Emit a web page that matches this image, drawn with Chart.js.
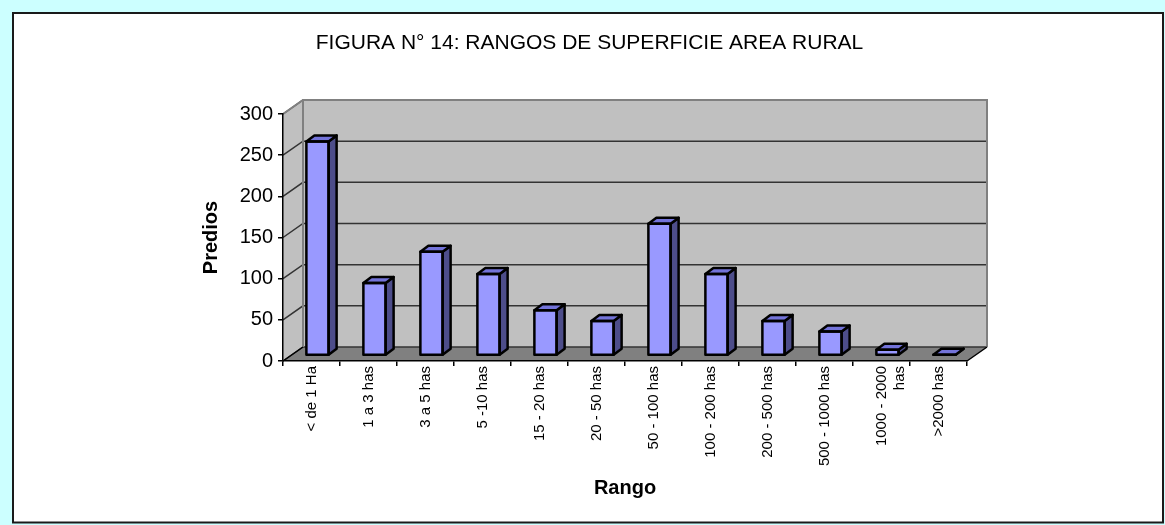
<!DOCTYPE html>
<html>
<head>
<meta charset="utf-8">
<script src="https://cdn.jsdelivr.net/npm/chart.js@4.4.1/dist/chart.umd.min.js"></script>
<style>
  html, body { margin: 0; padding: 0; background: #CCFFFF; }
  canvas { display: block; }
</style>
</head>
<body>
<canvas id="c" width="1165" height="525"></canvas>
<script>
// ---- data ----
const chartTitle = 'FIGURA N° 14: RANGOS DE SUPERFICIE AREA RURAL';
const categories = ['< de 1 Ha', '1 a 3 has', '3 a 5 has', '5 -10 has', '15 - 20 has', '20 - 50 has',
  '50 - 100 has', '100 - 200 has', '200 - 500 has', '500 - 1000 has', ['1000 - 2000', 'has'], '>2000 has'];
const predios = [260, 88, 126, 99, 55, 42, 160, 99, 42, 29, 7, 1];
const yMin = 0, yMax = 300, yStep = 50;
const xTitle = 'Rango';
const yTitle = 'Predios';

// ---- styling constants ----
const FONT = '"Liberation Sans", Arial, sans-serif';
const WALL_DX = 20, WALL_DY = -14;   // depth of 3D box
const BAR_SHIFT_X = 6, BAR_SHIFT_Y = -5.5; // bars placed inside the box
const BAR_DX = 8, BAR_DY = -6;       // bar depth

const bgPlugin = {
  id: 'bg3d',
  beforeDraw(chart) {
    const ctx = chart.ctx;
    const {left, right} = chart.chartArea;
    const ys = chart.scales.y;
    ctx.save();
    // background + frame
    ctx.fillStyle = '#CCFFFF';
    ctx.fillRect(0, 0, chart.width, chart.height);
    ctx.fillStyle = '#FFFFFF';
    ctx.fillRect(13, 13, 1150, 509.5);
    ctx.strokeStyle = '#1a1a1a';
    ctx.lineWidth = 2;
    ctx.strokeRect(13, 13, 1150, 509.5);

    // title
    ctx.fillStyle = '#000';
    ctx.font = '21px ' + FONT;
    ctx.textAlign = 'center';
    ctx.textBaseline = 'alphabetic';
    ctx.fillText(chartTitle, 589.5, 48.5);

    const y0 = ys.getPixelForValue(yMin);
    const yT = ys.getPixelForValue(yMax);
    // back wall
    ctx.fillStyle = '#C0C0C0';
    ctx.fillRect(left + WALL_DX, yT + WALL_DY, (right - left), y0 - yT);
    // left wall
    ctx.beginPath();
    ctx.moveTo(left, yT);
    ctx.lineTo(left + WALL_DX, yT + WALL_DY);
    ctx.lineTo(left + WALL_DX, y0 + WALL_DY);
    ctx.lineTo(left, y0);
    ctx.closePath();
    ctx.fill();
    // floor
    ctx.fillStyle = '#808080';
    ctx.beginPath();
    ctx.moveTo(left, y0);
    ctx.lineTo(right, y0);
    ctx.lineTo(right + WALL_DX, y0 + WALL_DY);
    ctx.lineTo(left + WALL_DX, y0 + WALL_DY);
    ctx.closePath();
    ctx.fill();

    // gridlines
    ctx.strokeStyle = '#333333';
    ctx.lineWidth = 1.5;
    for (let v = yMin; v <= yMax; v += yStep) {
      const yp = ys.getPixelForValue(v);
      ctx.beginPath();
      ctx.moveTo(left, yp);
      ctx.lineTo(left + WALL_DX, yp + WALL_DY);
      ctx.lineTo(right + WALL_DX, yp + WALL_DY);
      ctx.stroke();
    }
    // wall edges
    ctx.strokeStyle = '#808080';
    ctx.lineWidth = 2;
    ctx.beginPath();
    ctx.moveTo(left, yT);
    ctx.lineTo(left + WALL_DX, yT + WALL_DY);
    ctx.lineTo(right + WALL_DX, yT + WALL_DY);
    ctx.lineTo(right + WALL_DX, y0 + WALL_DY);
    ctx.moveTo(left + WALL_DX, yT + WALL_DY);
    ctx.lineTo(left + WALL_DX, y0 + WALL_DY);
    ctx.stroke();
    // floor diagonals
    ctx.strokeStyle = '#000';
    ctx.lineWidth = 1.5;
    ctx.beginPath();
    ctx.moveTo(right, y0);
    ctx.lineTo(right + WALL_DX, y0 + WALL_DY);
    ctx.moveTo(left, y0);
    ctx.lineTo(left + WALL_DX, y0 + WALL_DY);
    ctx.stroke();
    ctx.restore();
  },
  beforeDatasetsDraw(chart) {
    chart.ctx.save();
    chart.ctx.translate(BAR_SHIFT_X, BAR_SHIFT_Y);
  },
  afterDatasetsDraw(chart) {
    const ctx = chart.ctx;
    const meta = chart.getDatasetMeta(0);
    ctx.lineWidth = 2.5;
    ctx.strokeStyle = '#000';
    ctx.lineJoin = 'round';
    meta.data.forEach(bar => {
      const {x, y, base, width} = bar.getProps(['x', 'y', 'base', 'width'], true);
      const l = x - width / 2, r = x + width / 2;
      // side face
      ctx.fillStyle = '#4D4D8A';
      ctx.beginPath();
      ctx.moveTo(r, y);
      ctx.lineTo(r + BAR_DX, y + BAR_DY);
      ctx.lineTo(r + BAR_DX, base + BAR_DY);
      ctx.lineTo(r, base);
      ctx.closePath();
      ctx.fill();
      ctx.stroke();
      // top face
      ctx.fillStyle = '#7373D9';
      ctx.beginPath();
      ctx.moveTo(l, y);
      ctx.lineTo(l + BAR_DX, y + BAR_DY);
      ctx.lineTo(r + BAR_DX, y + BAR_DY);
      ctx.lineTo(r, y);
      ctx.closePath();
      ctx.fill();
      ctx.stroke();
      // front outline
      ctx.strokeRect(l, y, width, base - y);
    });
    ctx.restore();
  }
};

new Chart(document.getElementById('c'), {
  type: 'bar',
  data: {
    labels: categories,
    datasets: [{
      data: predios,
      backgroundColor: '#9999FF',
      borderColor: '#000',
      borderWidth: 0,
      barPercentage: 0.39,
      categoryPercentage: 1.0
    }]
  },
  options: {
    responsive: false,
    animation: false,
    devicePixelRatio: 1,
    layout: { padding: { left: 199, top: 114, right: 198, bottom: 25 } },
    plugins: {
      legend: { display: false },
      tooltip: { enabled: false },
      title: { display: false }
    },
    scales: {
      x: {
        offset: true,
        grid: { offset: true, drawOnChartArea: false, drawTicks: true, tickLength: 5, color: '#000', lineWidth: 1.5 },
        border: { display: true, color: '#000', width: 1.5 },
        ticks: { minRotation: 90, maxRotation: 90, autoSkip: false, padding: 0,
                 color: '#000', font: { family: FONT, size: 15 } },
        title: { display: true, text: xTitle, color: '#000', padding: 0,
                 font: { family: FONT, size: 20, weight: 'bold' } },
        afterFit(scale) { scale.height = 139; }
      },
      y: {
        min: yMin, max: yMax,
        grid: { drawOnChartArea: false, drawTicks: true, tickLength: 5, color: '#000', lineWidth: 1.5 },
        border: { display: true, color: '#000', width: 1.5 },
        ticks: { stepSize: yStep, padding: 5, color: '#000', font: { family: FONT, size: 20 } },
        title: { display: true, text: yTitle, color: '#000', padding: 0,
                 font: { family: FONT, size: 20, weight: 'bold' } },
        afterFit(scale) { scale.width = 84; }
      }
    }
  },
  plugins: [bgPlugin]
});
</script>
</body>
</html>
